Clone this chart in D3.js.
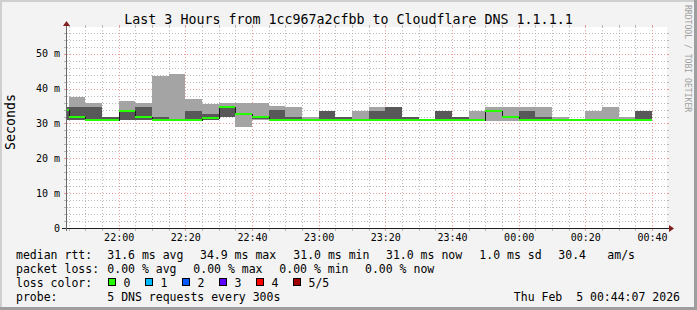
<!DOCTYPE html>
<html lang="en">
<head>
<meta charset="UTF-8">
<script src="https://cdn.jsdelivr.net/npm/d3@7/dist/d3.min.js"></script>
<title>Smokeping 3 hours</title>
<style>
    body, html {
        margin: 0;
        padding: 0;
        background: #f3f3f3;
    }
    svg { display: block; }
    text { font-family: "DejaVu Sans Mono", monospace; fill: #000; }
</style>
</head>
<body>
<div id="chart"></div>
<script>

// data: one step every 5 minutes, 5 pings sorted (min, 2nd, median, 4th, max), in ms
const stepStart = ["21:40", "21:45", "21:50", "21:55", "22:00", "22:05", "22:10", "22:15", "22:20", "22:25",
                   "22:30", "22:35", "22:40", "22:45", "22:50", "22:55", "23:00", "23:05", "23:10", "23:15",
                   "23:20", "23:25", "23:30", "23:35", "23:40", "23:45", "23:50", "23:55", "00:00", "00:05",
                   "00:10", "00:15", "00:20", "00:25", "00:30", "00:35"]
const pingMin = [31.0, 31.0, 31.0, 31.0, 31.0, 31.0, 31.0, 31.0, 31.0, 31.0,
                 31.9, 29.1, 30.9, 31.0, 31.0, 31.0, 31.0, 31.0, 31.0, 31.0,
                 31.0, 31.0, 31.0, 31.0, 31.0, 31.0, 30.8, 30.8, 31.0, 31.0,
                 31.0, 31.0, 31.0, 31.0, 31.0, 31.0]
const ping2 = [31.0, 31.0, 31.0, 31.0, 31.0, 31.0, 31.0, 31.0, 31.0, 31.0,
               31.9, 32.8, 31.3, 31.0, 31.0, 31.0, 31.0, 31.0, 31.0, 31.0,
               31.0, 31.0, 31.0, 31.0, 31.0, 31.0, 33.6, 31.5, 31.0, 31.0,
               31.0, 31.0, 31.0, 31.0, 31.0, 31.0]
const median = [33.8, 32.0, 31.0, 31.0, 33.7, 32.0, 31.0, 31.0, 31.0, 31.7,
                34.8, 32.8, 31.9, 31.0, 31.0, 31.0, 31.0, 31.0, 31.0, 31.0,
                31.0, 31.0, 31.0, 31.0, 31.0, 31.0, 33.6, 31.9, 31.0, 31.0,
                31.0, 31.0, 31.0, 31.0, 31.0, 31.0]
const ping4 = [34.8, 34.8, 34.8, 31.9, 33.7, 34.8, 31.9, 31.0, 33.6, 32.6,
               34.8, 32.8, 31.9, 33.9, 31.8, 31.0, 33.6, 31.9, 31.0, 33.6,
               34.8, 31.9, 31.0, 33.6, 31.9, 31.0, 33.6, 31.9, 33.6, 31.9,
               31.0, 31.0, 31.0, 31.0, 31.0, 33.6]
const pingMax = [34.8, 37.7, 35.9, 31.9, 36.5, 35.9, 43.5, 44.1, 37.1, 35.7,
                 35.8, 35.8, 35.8, 35.1, 34.8, 31.8, 33.6, 31.9, 33.6, 34.8,
                 34.8, 31.9, 31.0, 33.6, 31.9, 33.6, 34.8, 34.8, 34.8, 34.8,
                 31.9, 31.0, 33.6, 34.8, 31.9, 33.6]

const yTicks = [0, 10, 20, 30, 40, 50]
const yTickLabels = ["0", "10 m", "20 m", "30 m", "40 m", "50 m"]
const xTickLabels = ["22:00", "22:20", "22:40", "23:00", "23:20", "23:40", "00:00", "00:20", "00:40"]

const title = "Last 3 Hours from 1cc967a2cfbb to Cloudflare DNS 1.1.1.1"
const rttStats = ["31.6 ms avg", "34.9 ms max", "31.0 ms min", "31.0 ms now", "1.0 ms sd", "30.4", "am/s"]
const lossStats = ["0.00 % avg", "0.00 % max", "0.00 % min", "0.00 % now"]
const lossLabels = ["0", "1", "2", "3", "4", "5/5"]
const lossColors = ["#26ff00", "#00b8ff", "#0059ff", "#5e00ff", "#ff0000", "#a10000"]
const probeText = "5 DNS requests every 300s"
const stampText = "Thu Feb  5 00:44:07 2026"

// layout
const W = 697, H = 310
const P = { left: 67, right: 667, top: 27, bottom: 228 }

// 时间转换, hours before noon belong to the next day
const toTime = s => {
    let [h, m] = s.split(":").map(Number)
    return new Date(2026, 1, h < 12 ? 5 : 4, h, m)
}
const t0 = new Date(2026, 1, 4, 21, 44, 30)
const t1 = new Date(2026, 1, 5, 0, 44, 30)

const x = d3.scaleTime().domain([t0, t1]).range([P.left, P.right])
const y = d3.scaleLinear().domain([0, 57.7]).range([P.bottom, P.top])
const px = v => Math.round(x(v))
const py = v => Math.round(y(v))

const svg = d3.select("#chart").append("svg").attr("width", W).attr("height", H)
    .attr("shape-rendering", "crispEdges")

// frame
svg.append("rect").attr("width", W).attr("height", H).attr("fill", "#f3f3f3")
svg.append("rect").attr("x", 0).attr("y", 0).attr("width", W).attr("height", 2).attr("fill", "#cfcfcf")
svg.append("rect").attr("x", 0).attr("y", 0).attr("width", 2).attr("height", H).attr("fill", "#cfcfcf")
svg.append("rect").attr("x", 0).attr("y", H - 3).attr("width", W).attr("height", 3).attr("fill", "#9e9e9e")
svg.append("rect").attr("x", W - 3).attr("y", 0).attr("width", 3).attr("height", H).attr("fill", "#9e9e9e")

// canvas
svg.append("rect").attr("x", P.left).attr("y", P.top).attr("width", P.right - P.left).attr("height", P.bottom - P.top).attr("fill", "#fff")

// grid
const grid = svg.append("g")
const minorCol = "rgba(143,143,143,0.6)", majorCol = "rgba(222,79,79,0.55)"
const hMinor = d3.range(2, 58, 2).filter(v => v % 10 !== 0)
const hMajor = yTicks.filter(v => v > 0)
const vAll = d3.timeMinute.every(5).range(t0, t1)
const vMinor = vAll.filter(t => t.getMinutes() % 20 !== 0)
const vMajor = vAll.filter(t => t.getMinutes() % 20 === 0)

const hLines = (vals, col) => {
    vals.forEach(v => {
        let yy = py(v) + 0.5
        grid.append("line").attr("x1", P.left).attr("x2", P.right).attr("y1", yy).attr("y2", yy)
            .attr("stroke", col).attr("stroke-dasharray", "1,2")
        grid.append("line").attr("x1", P.left - 3).attr("x2", P.left).attr("y1", yy).attr("y2", yy).attr("stroke", col)
        grid.append("line").attr("x1", P.right).attr("x2", P.right + 2).attr("y1", yy).attr("y2", yy).attr("stroke", col)
    })
}
const vLines = (vals, col) => {
    vals.forEach(t => {
        let xx = px(t) + 0.5
        grid.append("line").attr("x1", xx).attr("x2", xx).attr("y1", P.top).attr("y2", P.bottom)
            .attr("stroke", col).attr("stroke-dasharray", "1,2")
        grid.append("line").attr("x1", xx).attr("x2", xx).attr("y1", P.bottom).attr("y2", P.bottom + 3).attr("stroke", col)
        grid.append("line").attr("x1", xx).attr("x2", xx).attr("y1", P.top - 2).attr("y2", P.top).attr("stroke", col)
    })
}
hLines(hMinor, minorCol)
vLines(vMinor, minorCol)
hLines(hMajor, majorCol)
vLines(vMajor, majorCol)

// smoke + median
svg.append("clipPath").attr("id", "plotclip").append("rect")
    .attr("x", P.left).attr("y", P.top).attr("width", P.right - P.left).attr("height", P.bottom - P.top)
const data = svg.append("g").attr("clip-path", "url(#plotclip)")

const steps = stepStart.map((s, i) => {
    let a = toTime(s)
    return { a: a, b: d3.timeMinute.offset(a, 5), p1: pingMin[i], p2: ping2[i], p3: median[i], p4: ping4[i], p5: pingMax[i] }
})

data.selectAll("rect.outer").data(steps).enter().append("rect")
    .attr("x", d => px(d.a)).attr("width", d => px(d.b) - px(d.a))
    .attr("y", d => py(d.p5)).attr("height", d => py(d.p1) - py(d.p5))
    .attr("fill", "#a4a4a4")
data.selectAll("rect.inner").data(steps).enter().append("rect")
    .attr("x", d => px(d.a)).attr("width", d => px(d.b) - px(d.a))
    .attr("y", d => py(d.p4)).attr("height", d => py(d.p2) - py(d.p4))
    .attr("fill", "#585858")

const medPts = steps.map(d => [px(d.a), py(d.p3) + 0.5])
medPts.push([px(steps[steps.length - 1].b), py(steps[steps.length - 1].p3) + 0.5])
data.append("path").attr("d", d3.line().curve(d3.curveStepAfter)(medPts))
    .attr("fill", "none").attr("stroke", "#1a1a1a").attr("stroke-width", 1)

data.selectAll("rect.med").data(steps).enter().append("rect")
    .attr("x", d => px(d.a)).attr("width", d => px(d.b) - px(d.a))
    .attr("y", d => py(d.p3) - 1).attr("height", 2)
    .attr("fill", lossColors[0])

// axes
svg.append("line").attr("x1", P.left - 5).attr("x2", P.right + 4).attr("y1", P.bottom + 0.5).attr("y2", P.bottom + 0.5).attr("stroke", "#1f1f1f")
svg.append("line").attr("x1", P.left - 0.5).attr("x2", P.left - 0.5).attr("y1", P.bottom + 3).attr("y2", P.top - 4).attr("stroke", "#6a6a6a")
svg.append("path").attr("d", `M${P.right + 2},${P.bottom - 3} L${P.right + 7},${P.bottom + 0.5} L${P.right + 2},${P.bottom + 4} Z`)
    .attr("fill", "#801f1f").attr("shape-rendering", "auto")
svg.append("path").attr("d", `M${P.left - 4},${P.top - 1} L${P.left - 0.5},${P.top - 6} L${P.left + 3},${P.top - 1} Z`)
    .attr("fill", "#801f1f").attr("shape-rendering", "auto")

// tick labels
svg.selectAll("text.ylab").data(yTicks).enter().append("text")
    .attr("x", 60).attr("y", d => y(d) + 3.5).attr("text-anchor", "end")
    .attr("font-size", 10).text((d, i) => yTickLabels[i])
svg.selectAll("text.xlab").data(xTickLabels).enter().append("text")
    .attr("x", d => x(toTime(d)) + 0.5).attr("y", 240.5).attr("text-anchor", "middle")
    .attr("font-size", 10).text(d => d)

// title and units
svg.append("text").attr("x", 348.5).attr("y", 24).attr("text-anchor", "middle")
    .attr("font-size", 13.3).text(title)
svg.append("text").attr("transform", "translate(14.5,122) rotate(-90)").attr("text-anchor", "middle")
    .attr("font-size", 13.3).text("Seconds")
svg.append("text").attr("transform", "translate(685,5) rotate(90)").attr("text-anchor", "start")
    .attr("font-size", 8.1).style("fill", "#a0a0a0").text("RRDTOOL / TOBI OETIKER")

// legend
const lg = svg.append("g").attr("font-size", 11.5)
const row = [259, 273, 287, 300.5]
const put = (xx, yy, s) => lg.append("text").attr("x", xx).attr("y", yy).attr("xml:space", "preserve").text(s)

put(16, row[0], "median rtt:")
const rttX = [107.3, 200, 293.3, 386, 479.3, 558.3, 607.3]
rttStats.forEach((s, i) => put(rttX[i], row[0], s))

put(16, row[1], "packet loss:")
const lossX = [107.3, 193.3, 279.3, 365]
lossStats.forEach((s, i) => put(lossX[i], row[1], s))

put(16, row[2], "loss color:")
lossLabels.forEach((s, i) => {
    let bx = 108.5 + i * 37
    lg.append("rect").attr("x", bx).attr("y", 278.5).attr("width", 7).attr("height", 7)
        .attr("fill", lossColors[i]).attr("stroke", "#000").attr("stroke-width", 1)
    put(bx + 15, row[2], s)
})

put(16, row[3], "probe:")
put(107.3, row[3], probeText)
lg.append("text").attr("x", 680).attr("y", row[3]).attr("text-anchor", "end").attr("xml:space", "preserve").text(stampText)

</script>
</body>
</html>
